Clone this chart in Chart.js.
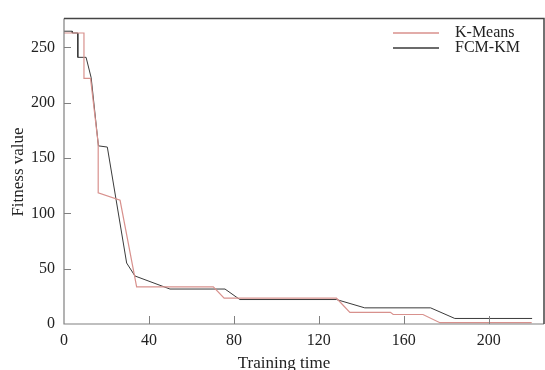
<!DOCTYPE html>
<html>
<head>
<meta charset="utf-8">
<script src="https://cdn.jsdelivr.net/npm/chart.js@4"></script>
<style>
  html, body { margin: 0; padding: 0; background: #fff; }
  canvas { display: block; }
</style>
</head>
<body>
<canvas id="fitnessChart" width="545" height="370"></canvas>
<script>
// series (x = training time, y = fitness value)
const kmeansX = [0, 9.4, 9.4, 12.5, 16.1, 16.1, 26.4, 34.2, 70.3, 75.4, 128.3, 134.6, 153.7, 155, 169, 177, 220.2];
const kmeansY = [263, 263, 222, 222, 163, 118.6, 111.8, 33.6, 33.6, 23.3, 23.3, 10.5, 10.5, 8.6, 8.6, 1.2, 1.2];

const fcmX = [0, 3.9, 3.9, 6.5, 6.5, 10.4, 12.8, 16.2, 20.4, 29.5, 33.4, 49.9, 75.8, 82.8, 128.3, 141.6, 172.6, 184, 220.4];
const fcmY = [264.6, 264.6, 263, 263, 241, 241, 222.5, 161, 159.9, 55.1, 43.4, 31.6, 31.6, 22.1, 22.1, 14.6, 14.6, 5, 5];

const seriesNames = ['K-Means', 'FCM-KM'];
const xTicks = [0, 40, 80, 120, 160, 200];
const yTicks = [0, 50, 100, 150, 200, 250];
const xTitle = 'Training time';
const yTitle = 'Fitness value';

const serif = '"Liberation Serif", "Times New Roman", serif';

function toPoints(xs, ys) {
  return xs.map((x, i) => ({ x: x, y: ys[i] }));
}

// inward tick marks, box border, axis titles and the legend
const decorations = {
  id: 'decorations',
  afterDraw(chart) {
    const ctx = chart.ctx;
    const area = chart.chartArea;
    const xs = chart.scales.x;
    const ys = chart.scales.y;
    ctx.save();

    // axis lines
    ctx.strokeStyle = '#808080';
    ctx.lineWidth = 1.2;
    ctx.beginPath();
    ctx.moveTo(area.left, area.top);
    ctx.lineTo(area.left, area.bottom);
    ctx.lineTo(area.right, area.bottom);
    ctx.stroke();

    // top and right border
    ctx.strokeStyle = '#444';
    ctx.lineWidth = 1.5;
    ctx.beginPath();
    ctx.moveTo(area.left, area.top);
    ctx.lineTo(area.right, area.top);
    ctx.lineTo(area.right, area.bottom);
    ctx.stroke();

    // tick marks pointing into the plot
    ctx.strokeStyle = '#808080';
    ctx.lineWidth = 1;
    ctx.beginPath();
    xTicks.forEach(v => {
      if (v === 0) return;
      const px = Math.round(xs.getPixelForValue(v)) + 0.5;
      ctx.moveTo(px, area.bottom);
      ctx.lineTo(px, area.bottom - 8);
    });
    yTicks.forEach(v => {
      if (v === 0) return;
      const py = Math.round(ys.getPixelForValue(v)) + 0.5;
      ctx.moveTo(area.left, py);
      ctx.lineTo(area.left + 7, py);
    });
    ctx.stroke();

    // axis titles
    ctx.fillStyle = '#222';
    ctx.font = '17px ' + serif;
    ctx.textAlign = 'center';
    ctx.textBaseline = 'middle';
    ctx.fillText(xTitle, 284, 364);
    ctx.save();
    ctx.translate(19, 172);
    ctx.rotate(-Math.PI / 2);
    ctx.fillText(yTitle, 0, 0);
    ctx.restore();

    // legend
    ctx.textAlign = 'left';
    ctx.font = '16px ' + serif;
    chart.data.datasets.forEach((ds, i) => {
      const y = 33 + i * 15;
      ctx.strokeStyle = ds.borderColor;
      ctx.lineWidth = 1.3;
      ctx.beginPath();
      ctx.moveTo(393, y);
      ctx.lineTo(439, y);
      ctx.stroke();
      ctx.fillStyle = '#222';
      ctx.fillText(ds.label, 455, y);
    });

    ctx.restore();
  }
};

new Chart(document.getElementById('fitnessChart'), {
  type: 'line',
  data: {
    datasets: [
      {
        label: seriesNames[0],
        data: toPoints(kmeansX, kmeansY),
        borderColor: '#d8918d',
        borderWidth: 1.2,
        pointRadius: 0,
        tension: 0,
        fill: false
      },
      {
        label: seriesNames[1],
        data: toPoints(fcmX, fcmY),
        borderColor: '#3a3a3a',
        borderWidth: 1,
        pointRadius: 0,
        tension: 0,
        fill: false
      }
    ]
  },
  options: {
    responsive: false,
    animation: false,
    events: [],
    layout: { padding: { top: 12, right: 1, left: 0, bottom: 0 } },
    plugins: {
      legend: { display: false },
      tooltip: { enabled: false }
    },
    scales: {
      x: {
        type: 'linear',
        min: 0,
        max: 226,
        afterFit: s => { s.height = 46; },
        afterBuildTicks: s => { s.ticks = xTicks.map(v => ({ value: v })); },
        border: { display: false },
        grid: { display: false, drawTicks: false },
        ticks: {
          padding: 7,
          color: '#222',
          font: { family: serif, size: 16 }
        }
      },
      y: {
        min: 0,
        max: 276,
        afterFit: s => { s.width = 64; },
        afterBuildTicks: s => { s.ticks = yTicks.map(v => ({ value: v })); },
        border: { display: false },
        grid: { display: false, drawTicks: false },
        ticks: {
          padding: 9,
          color: '#222',
          font: { family: serif, size: 16 }
        }
      }
    }
  },
  plugins: [decorations]
});
</script>
</body>
</html>
